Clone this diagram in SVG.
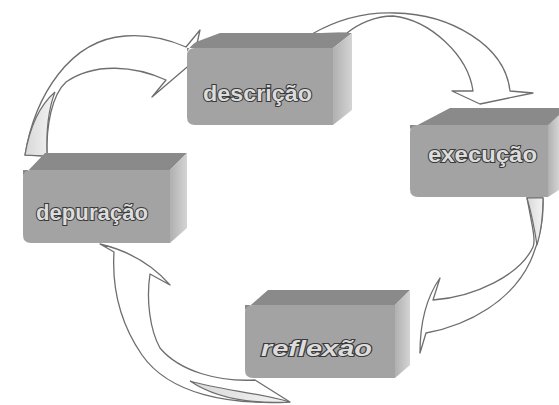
<svg xmlns="http://www.w3.org/2000/svg" width="559" height="405" viewBox="0 0 559 405">
<defs>
<linearGradient id="side" x1="0" y1="0" x2="1" y2="0">
<stop offset="0" stop-color="#b0b0b0"/><stop offset="1" stop-color="#d4d4d4"/>
</linearGradient>
<linearGradient id="twist" x1="0" y1="0" x2="1" y2="0">
<stop offset="0" stop-color="#d8d8d8"/><stop offset="1" stop-color="#f4f4f4"/>
</linearGradient>
</defs>
<style>
.front{fill:#a3a3a3;}
.top{fill:#8a8a8a;}
.side{fill:url(#side);}
.lbl{font-family:"Liberation Sans",Arial,sans-serif;font-size:22px;font-weight:bold;fill:#dcdcdc;stroke:#3a3a3a;stroke-width:2px;paint-order:stroke;text-anchor:start;}
.arrow{fill:#ffffff;stroke:#6e6e6e;stroke-width:1.3;stroke-linejoin:round;}
.shade{fill:url(#twist);stroke:#6e6e6e;stroke-width:1.2;}
</style>
<rect width="559" height="405" fill="#ffffff"/>
<g id="connectors">
<path class="arrow" d="M25,155 C35,95 70,40 125,36 C150,34 170,40 186,47 L200,30 L193,62 L152,97 L166,80 C135,66 95,62 66,82 C52,95 46,125 47,156 Z"/>
<path class="shade" d="M25,155 C30,125 40,105 55,92 C48,110 46,130 47,156 Z"/>
<path class="arrow" d="M312,34 C340,18 370,12 395,13 C450,14 505,45 510,91 L533,93 L480,104 L452,91 L473,91 C468,55 430,20 393,16 C375,16 358,24 347,33 Z"/>
<path class="arrow" d="M527,198 C532,225 536,240 533,247 C520,275 475,297 433,300 L440,278 C428,295 420,320 420,353 L426,333 C470,325 512,300 530,262 C540,240 544,220 543,198 Z"/>
<path class="shade" d="M527,198 L543,198 C543,215 541,232 537,245 C534,225 531,212 527,198 Z"/>
<path class="arrow" d="M290,402 C230,405 170,395 142,355 C118,320 112,285 114,252 L100,244 C125,250 150,262 170,285 L150,274 C146,300 150,330 160,348 C180,372 220,382 255,380 Z"/>
<path class="shade" d="M190,381 C220,390 255,392 290,402 C250,404 215,398 190,381 Z"/>
</g>
<g id="node-descricao">
<path class="top" d="M187,52 Q190,46 196,42 L220,33 L352,33 L333,48 L187,48 Z"/>
<path class="side" d="M333,48 L352,33 L352,110 L333,125 Z"/>
<path class="front" d="M195,48 L333,48 L333,125 L195,125 Q187,125 187,117 L187,56 Q187,48 195,48 Z"/>
<text class="lbl" x="203" y="101" textLength="109" lengthAdjust="spacingAndGlyphs">descrição</text>
</g>
<g id="node-execucao">
<path class="top" d="M410,129 L450,108 L559,108 L559,125 L410,125 Z"/>
<path class="side" d="M548,125 L559,115 L559,190 L548,197 Z"/>
<path class="front" d="M418,125 L548,125 L548,197 L418,197 Q410,197 410,189 L410,133 Q410,125 418,125 Z"/>
<text class="lbl" x="428" y="162" textLength="109" lengthAdjust="spacingAndGlyphs">execução</text>
</g>
<g id="node-depuracao">
<path class="top" d="M23,176 L45,153 L187,153 L170,170 L23,170 Z"/>
<path class="side" d="M170,170 L187,153 L187,228 L170,243 Z"/>
<path class="front" d="M31,170 L170,170 L170,243 L31,243 Q23,243 23,235 L23,178 Q23,170 31,170 Z"/>
<text class="lbl" x="36" y="220" textLength="112" lengthAdjust="spacingAndGlyphs">depuração</text>
</g>
<g id="node-reflexao">
<path class="top" d="M245,310 L268,290 L410,290 L395,305 L245,305 Z"/>
<path class="side" d="M395,305 L410,290 L410,365 L395,378 Z"/>
<path class="front" d="M253,305 L395,305 L395,378 L253,378 Q245,378 245,370 L245,313 Q245,305 253,305 Z"/>
<text class="lbl" x="261" y="356" font-style="italic" textLength="111" lengthAdjust="spacingAndGlyphs">reflexão</text>
</g>
</svg>
